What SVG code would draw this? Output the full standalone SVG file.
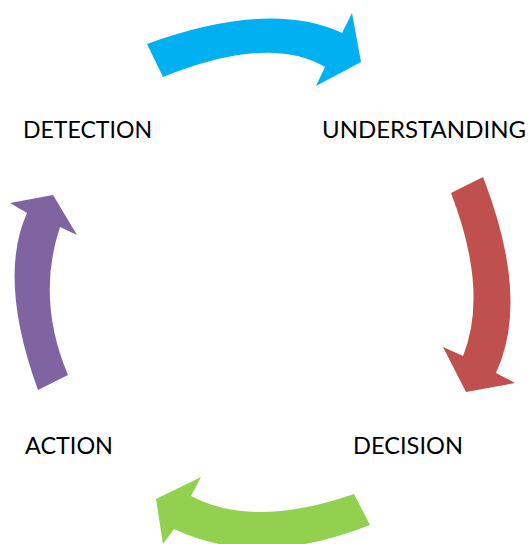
<svg xmlns="http://www.w3.org/2000/svg" width="529" height="544" viewBox="0 0 529 544">
  <style>
    .label { font-family: Lato, "Open Sans", "Liberation Sans", sans-serif; font-size: 23px; fill: #000000; }
    .arrow { stroke: none; }
  </style>
  <rect x="0" y="0" width="529" height="544" fill="#ffffff"/>

  <!-- curved block arrows forming the cycle -->
  <g id="connectors">
    <!-- Detection to Understanding -->
    <path class="arrow" fill="#00B0F0"
          d="M147,44 Q269.5,-0.5 342,33 L352,13 L361,62 L316,86 L325,67 Q270,34 163,77 Z"/>
    <!-- Understanding to Decision -->
    <path class="arrow" fill="#C0504D"
          d="M483,177 Q530.5,299 496,373 L515,383 L466,392 L443,347 L463,356 Q489,291.5 451,193 Z"/>
    <!-- Decision to Action -->
    <path class="arrow" fill="#92D050"
          d="M354,494 L370,525 Q258.5,569 174,529 L163,544 L156,499 L201,477 L191,496 Q253.5,529 354,494 Z"/>
    <!-- Action to Detection -->
    <path class="arrow" fill="#8064A2"
          d="M38,390 Q-2.5,278.5 27,213 L10,203 L53,195 L77,235 L60,227 Q36,299 68,375 Z"/>
  </g>

  <g id="detection">
    <text class="label" x="23" y="138" textLength="129" lengthAdjust="spacingAndGlyphs">DETECTION</text>
  </g>
  <g id="understanding">
    <text class="label" x="322" y="138" textLength="204" lengthAdjust="spacingAndGlyphs">UNDERSTANDING</text>
  </g>
  <g id="decision">
    <text class="label" x="353" y="453.5" textLength="110" lengthAdjust="spacingAndGlyphs">DECISION</text>
  </g>
  <g id="action">
    <text class="label" x="25" y="453.5" textLength="88" lengthAdjust="spacingAndGlyphs">ACTION</text>
  </g>
</svg>
